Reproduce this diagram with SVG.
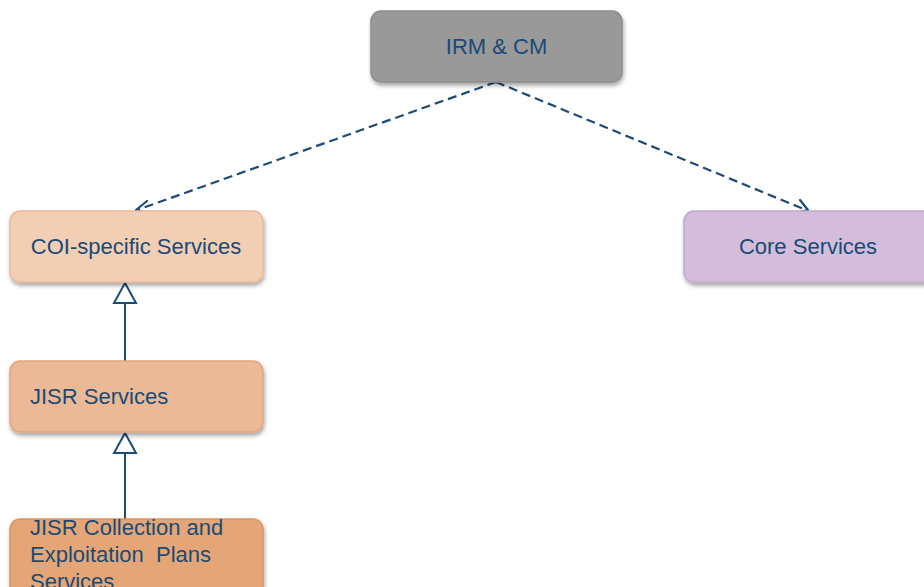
<svg xmlns="http://www.w3.org/2000/svg" width="924" height="587" viewBox="0 0 924 587">
  <defs>
    <filter id="shadow" x="-10%" y="-20%" width="120%" height="150%">
      <feGaussianBlur in="SourceAlpha" stdDeviation="2"/>
      <feOffset dx="1" dy="3" result="b"/>
      <feComponentTransfer><feFuncA type="linear" slope="0.35"/></feComponentTransfer>
      <feMerge><feMergeNode/><feMergeNode in="SourceGraphic"/></feMerge>
    </filter>
  </defs>
  <style>
    .box { stroke-width: 1.5; filter: url(#shadow); }
    .lbl { font-family: "Liberation Sans", Arial, sans-serif; font-size: 22px; fill: #1a4a76; }
    .dash { fill: none; stroke: #1d4b78; stroke-width: 2.2; stroke-dasharray: 9 5; }
    .head { fill: none; stroke: #1d4b78; stroke-width: 2.2; stroke-linecap: round; stroke-linejoin: round; }
    .gen { fill: none; stroke: #1d4b78; stroke-width: 2; }
    .tri { fill: #ffffff; stroke: #1d4b78; stroke-width: 2; }
  </style>
  <rect width="924" height="587" fill="#ffffff"/>

  <g id="connectors">
    <!-- dependency arrows from IRM & CM -->
    <path class="dash" d="M496,82 L137,210"/>
    <path class="head" d="M147,201 L136,210 L150,214"/>
    <path class="dash" d="M496,82 L806,210"/>
    <path class="head" d="M800,200 L808,210 L795,213"/>
    <!-- generalisation arrows -->
    <path class="gen" d="M125,361 L125,304"/>
    <path class="tri" d="M125,283 L136,303 L114,303 Z"/>
    <path class="gen" d="M125,519 L125,454"/>
    <path class="tri" d="M125,433 L136,453 L114,453 Z"/>
  </g>

  <g id="irm-cm">
    <rect class="box" x="371" y="11" width="251" height="71" rx="10" fill="#999999" stroke="#8c8c8c"/>
    <text class="lbl" x="496.5" y="54" text-anchor="middle">IRM &amp; CM</text>
  </g>

  <g id="coi-specific-services">
    <rect class="box" x="10" y="211" width="253" height="71" rx="10" fill="#f2cfb4" stroke="#eabb98"/>
    <text class="lbl" x="136" y="254" text-anchor="middle">COI-specific Services</text>
  </g>

  <g id="core-services">
    <rect class="box" x="684" y="211" width="260" height="71" rx="10" fill="#d3bddb" stroke="#c3a8cd"/>
    <text class="lbl" x="808" y="254" text-anchor="middle">Core Services</text>
  </g>

  <g id="jisr-services">
    <rect class="box" x="10" y="361" width="253" height="71" rx="10" fill="#ebb995" stroke="#e2a57b"/>
    <text class="lbl" x="30" y="404">JISR Services</text>
  </g>

  <g id="jisr-collection-exploitation">
    <rect class="box" x="10" y="519" width="253" height="90" rx="10" fill="#e4a676" stroke="#db9462"/>
    <text class="lbl" x="30" y="535">JISR Collection and</text>
    <text class="lbl" x="30" y="562" xml:space="preserve">Exploitation  Plans</text>
    <text class="lbl" x="30" y="589">Services</text>
  </g>
</svg>
